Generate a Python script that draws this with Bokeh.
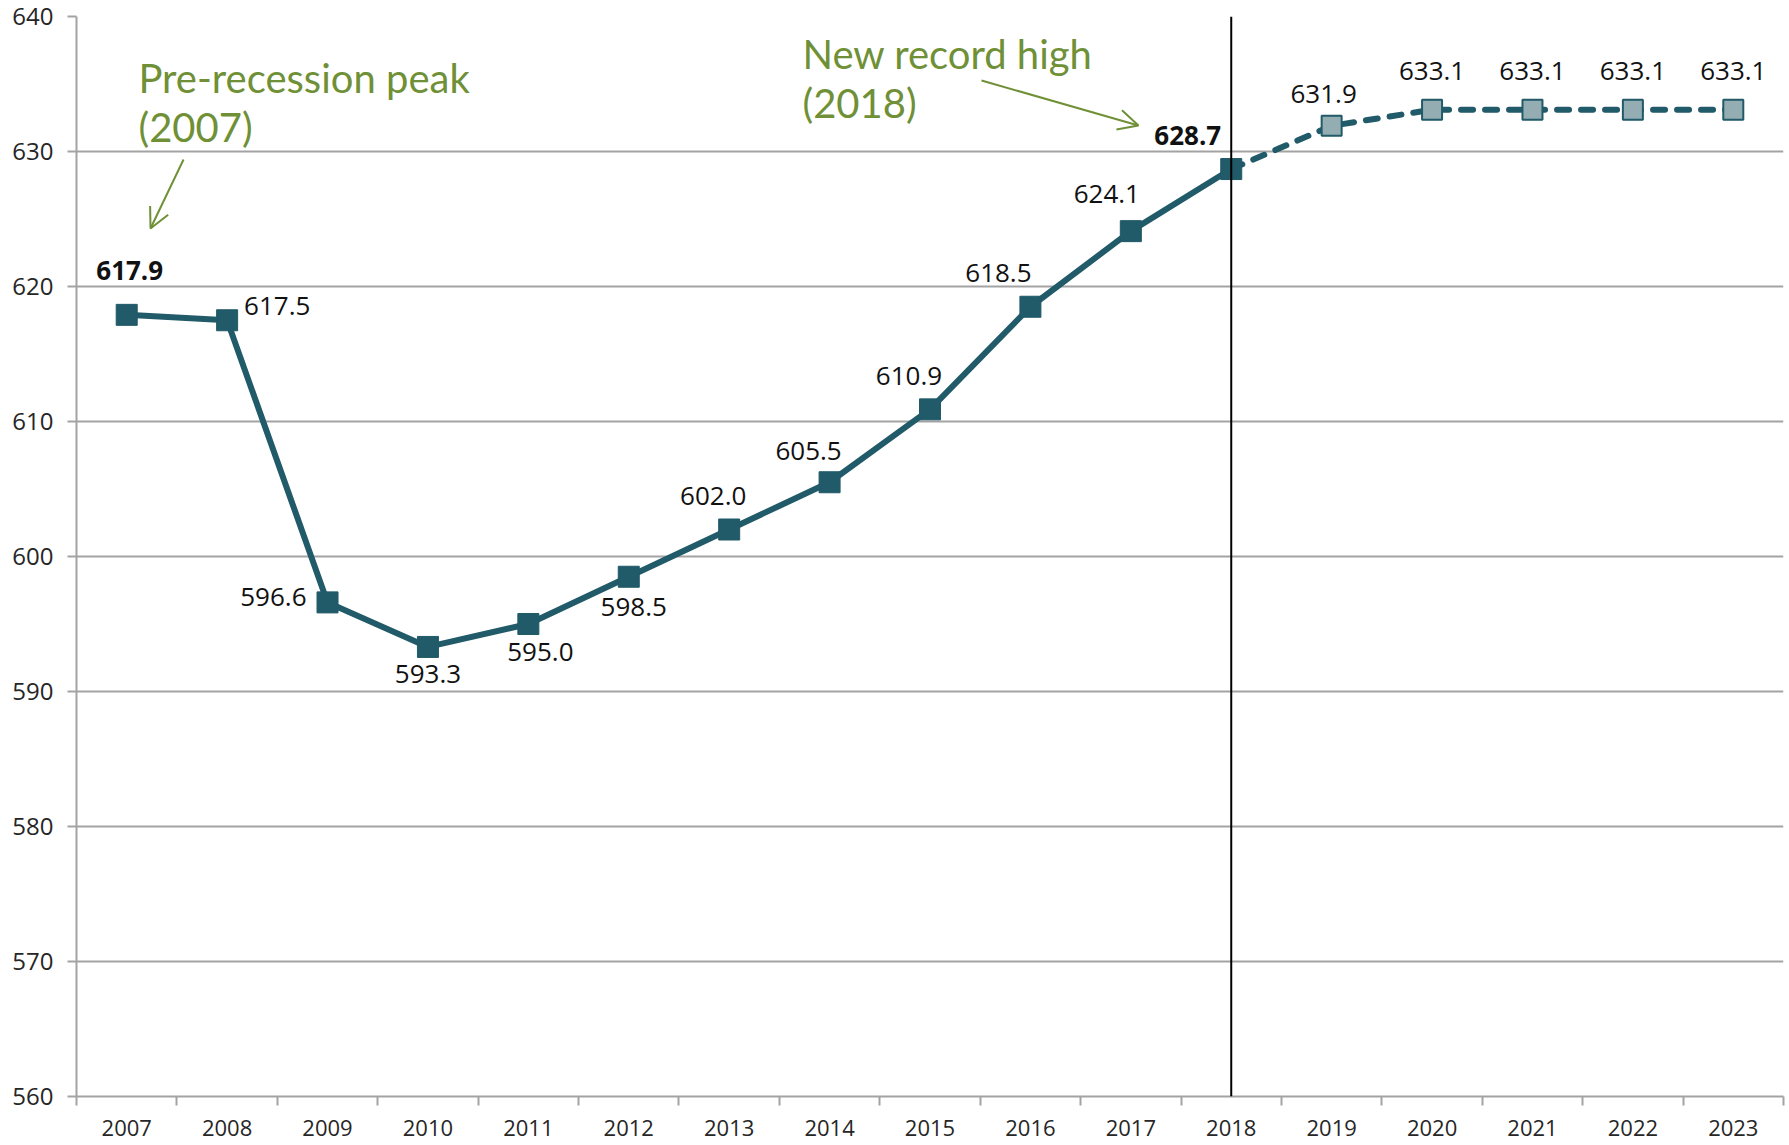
from bokeh.plotting import figure
from bokeh.models import (ColumnDataSource, FixedTicker, Span, Label, Arrow,
                          OpenHead, NumeralTickFormatter, Range1d)
from bokeh.embed import file_html
from bokeh.resources import INLINE

# ---- data ----
years = [2007, 2008, 2009, 2010, 2011, 2012, 2013, 2014, 2015, 2016, 2017,
         2018, 2019, 2020, 2021, 2022, 2023]
values = [617.9, 617.5, 596.6, 593.3, 595.0, 598.5, 602.0, 605.5, 610.9,
          618.5, 624.1, 628.7, 631.9, 633.1, 633.1, 633.1, 633.1]
last_actual_year = 2018
y_ticks = [560, 570, 580, 590, 600, 610, 620, 630, 640]
note_peak = ["Pre-recession peak", "(2007)"]
note_record = ["New record high", "(2018)"]

# ---- label styling (pixel offsets from each point, alignment, weight) ----
label_dx = [3, 17, -21, 0, 12, 5, -16, -21, -21, -32, -24, -10, -8, 0, 0, 0, 0]
label_dy = [-44, -14, -5, 27, 28, 30, -34, -31, -33, -34, -37, -34, -32, -39, -39, -39, -39]
label_align = ["center", "left", "right", "center", "center", "center", "center",
               "center", "center", "center", "center", "right", "center",
               "center", "center", "center", "center"]
label_weight = ["bold"] + ["normal"] * 10 + ["bold"] + ["normal"] * 5

TEAL = "#215A68"
LIGHT = "#93ADB3"
GREEN = "#6F9036"
GRID = "#A3A3A3"

split = years.index(last_actual_year)
act = ColumnDataSource(dict(x=years[:split + 1], y=values[:split + 1]))
fc = ColumnDataSource(dict(x=years[split:], y=values[split:]))
fc_pts = ColumnDataSource(dict(x=years[split + 1:], y=values[split + 1:]))
labels = ColumnDataSource(dict(
    x=years, y=values, text=[f"{v:.1f}" for v in values],
    dx=label_dx, dy=label_dy, align=label_align, weight=label_weight))

p = figure(width=1789, height=1145, output_backend="svg", toolbar_location=None,
           x_range=Range1d(years[0] - 0.5, years[-1] + 0.5),
           y_range=Range1d(y_ticks[0], y_ticks[-1]),
           min_border_left=76, min_border_right=6, min_border_top=16,
           min_border_bottom=49)
p.outline_line_color = None
p.background_fill_color = "white"
p.border_fill_color = "white"

# grid
p.xgrid.visible = False
p.ygrid.grid_line_color = GRID
p.ygrid.grid_line_width = 2
p.ygrid.ticker = FixedTicker(ticks=y_ticks)

# y axis
p.yaxis.ticker = FixedTicker(ticks=y_ticks)
p.yaxis.axis_line_color = GRID
p.yaxis.axis_line_width = 2
p.yaxis.major_tick_line_color = GRID
p.yaxis.major_tick_line_width = 2
p.yaxis.major_tick_out = 9
p.yaxis.major_tick_in = 0
p.yaxis.minor_tick_line_color = None
p.yaxis.major_label_text_font = "Open Sans"
p.yaxis.major_label_text_font_size = "24px"
p.yaxis.major_label_text_color = "#262626"
p.yaxis.major_label_standoff = 14

# x axis: labels at category centres, ticks between categories
p.xaxis.ticker = FixedTicker(ticks=years,
                             minor_ticks=[y - 0.5 for y in years] + [years[-1] + 0.5])
p.xaxis.formatter = NumeralTickFormatter(format="0")
p.xaxis.axis_line_color = GRID
p.xaxis.axis_line_width = 2
p.xaxis.major_tick_line_color = None
p.xaxis.major_tick_out = 0
p.xaxis.major_tick_in = 0
p.xaxis.minor_tick_line_color = GRID
p.xaxis.minor_tick_line_width = 2
p.xaxis.minor_tick_out = 9
p.xaxis.minor_tick_in = 0
p.xaxis.major_label_text_font = "Open Sans"
p.xaxis.major_label_text_font_size = "22px"
p.xaxis.major_label_text_color = "#262626"
p.xaxis.major_label_standoff = 14

# lines
p.line("x", "y", source=act, line_color=TEAL, line_width=6)
p.line("x", "y", source=fc, line_color=TEAL, line_width=6,
       line_dash="12 12", line_cap="round")
p.scatter("x", "y", source=act, marker="square", size=21,
          fill_color=TEAL, line_color=TEAL)
p.scatter("x", "y", source=fc_pts, marker="square", size=20,
          fill_color=LIGHT, line_color=TEAL, line_width=2)

# vertical line at last actual year
p.add_layout(Span(location=last_actual_year, dimension="height",
                  line_color="black", line_width=2))

# data labels
p.text("x", "y", text="text", source=labels, x_offset="dx", y_offset="dy",
       text_align="align", text_baseline="middle", text_font_style="weight",
       text_font={"value": "Open Sans"}, text_font_size="26px",
       text_color="#111111")

# annotations
def note(x, y, txt):
    p.add_layout(Label(x=x, y=y, text=txt, text_font="Lato",
                       text_font_size="40px", text_color=GREEN,
                       text_baseline="middle", text_align="left"))

note(2007.117, 635.48, note_peak[0])
note(2007.117, 631.78, note_peak[1])
note(2013.73, 637.19, note_record[0])
note(2013.73, 633.56, note_record[1])

p.add_layout(Arrow(x_start=2007.566, y_start=629.41, x_end=2007.237, y_end=624.30,
                   line_color=GREEN, line_width=2,
                   end=OpenHead(size=20, line_color=GREEN, line_width=2)))
p.add_layout(Arrow(x_start=2015.513, y_start=635.26, x_end=2017.076, y_end=631.93,
                   line_color=GREEN, line_width=2,
                   end=OpenHead(size=20, line_color=GREEN, line_width=2)))

open("out.html", "w").write(file_html(p, INLINE))
